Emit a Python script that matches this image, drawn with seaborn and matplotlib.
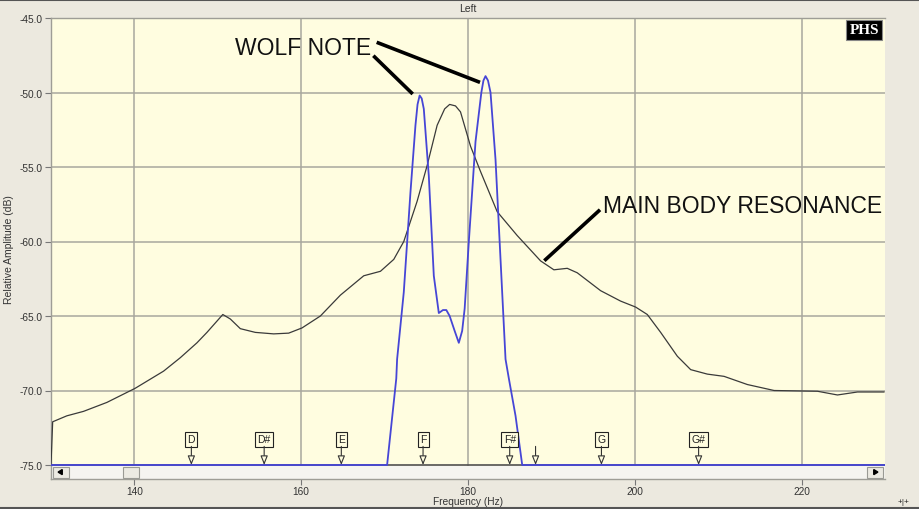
import numpy as np
import pandas as pd
import matplotlib
matplotlib.use("Agg")
import matplotlib.pyplot as plt
from matplotlib.patches import Rectangle, Polygon
from matplotlib.lines import Line2D
import seaborn as sns

# ---------------- data ----------------
body_freq = [130.0, 130.2, 131.9, 133.9, 136.7, 140.1, 143.5, 145.5, 147.5, 148.7,
             150.6, 151.5, 152.7, 154.5, 156.7, 158.5, 160.1, 162.3, 164.7, 167.5,
             169.5, 171.1, 172.3, 173.9, 175.1, 176.3, 177.2, 177.8, 178.5, 179.1,
             180.3, 181.5, 183.5, 185.9, 188.7, 190.3, 191.9, 193.1, 195.9, 198.3,
             200.1, 201.5, 203.1, 205.1, 206.7, 208.7, 210.7, 213.5, 216.7, 221.9,
             224.3, 226.7, 229.9]
body_db = [-75.0, -72.1, -71.7, -71.4, -70.8, -69.85, -68.7, -67.8, -66.8, -66.1,
           -64.9, -65.2, -65.85, -66.1, -66.2, -66.15, -65.8, -65.0, -63.6, -62.3,
           -62.0, -61.2, -60.0, -57.3, -54.9, -52.2, -51.1, -50.8, -50.9, -51.3,
           -53.6, -55.3, -58.0, -59.6, -61.3, -61.9, -61.8, -62.1, -63.3, -64.0,
           -64.4, -64.9, -66.1, -67.7, -68.6, -68.9, -69.05, -69.6, -70.0, -70.05,
           -70.3, -70.1, -70.1]

wolf_freq = [130.0, 170.3, 171.4, 171.5, 172.3, 173.1, 173.7, 173.95, 174.2, 174.45,
             174.7, 175.3, 175.9, 176.5, 177.0, 177.4, 177.8, 178.4, 178.9, 179.3,
             179.6, 180.1, 180.9, 181.6, 181.85, 182.1, 182.4, 182.7, 183.3, 183.9,
             184.5, 184.9, 185.7, 186.5, 230.0]
wolf_db = [-75.0, -75.0, -69.2, -67.9, -63.4, -56.7, -52.2, -50.8, -50.2, -50.4,
           -51.1, -55.6, -62.3, -64.8, -64.6, -64.6, -65.0, -66.0, -66.8, -66.0,
           -64.5, -60.0, -53.3, -50.0, -49.2, -48.9, -49.2, -50.0, -54.5, -61.2,
           -67.9, -69.2, -71.7, -75.0, -75.0]

note_names = ["D", "D#", "E", "F", "F#", "G", "G#"]
note_freqs = [146.83, 155.56, 164.81, 174.61, 185.0, 196.0, 207.65]
pitch_marker = 188.1

x_ticks = [140, 160, 180, 200, 220]
y_ticks = [-45, -50, -55, -60, -65, -70, -75]

# ---------------- style ----------------
BG = "#ECE9DF"
PLOT_BG = "#FFFDE0"
GRID = "#A8A79E"
TXT = "#333333"

sns.set_style("ticks")
plt.rcParams["font.family"] = ["Liberation Sans", "DejaVu Sans"]

fig = plt.figure(figsize=(9.19, 5.10), dpi=100, facecolor=BG)
ax = fig.add_axes([51 / 919, 30 / 510, 834 / 919, 461 / 510])
ax.set_facecolor(PLOT_BG)

YMIN = -45 - 461 / 14.9
ax.set_xlim(130, 230)
ax.set_ylim(YMIN, -45)

# grid
for xv in x_ticks:
    ax.axvline(xv, color=GRID, lw=1.1, zorder=0.5)
for yv in y_ticks[1:-1]:
    ax.axhline(yv, color=GRID, lw=1.1, zorder=0.5)

df_body = pd.DataFrame({"freq": body_freq, "db": body_db})
df_wolf = pd.DataFrame({"freq": wolf_freq, "db": wolf_db})

ax.axhline(-75, color="#505050", lw=1.2, zorder=1)
sns.lineplot(data=df_body, x="freq", y="db", ax=ax, color="#3a3a3a", lw=0.9,
             estimator=None, sort=False, zorder=3)
sns.lineplot(data=df_wolf, x="freq", y="db", ax=ax, color="#4646D6", lw=1.3,
             estimator=None, sort=False, zorder=4)

# scrollbar
trans = ax.transAxes
ax.add_patch(Rectangle((0, 0), 1, 0.0285, transform=trans, facecolor="#F5F4F0",
                       edgecolor="none", zorder=2))
def btn(x0, w):
    ax.add_patch(Rectangle((x0, 0.002), w, 0.025, transform=trans,
                           facecolor="#ECEAE2", edgecolor="#9a9a94", lw=0.8, zorder=6))
btn(0.002, 0.019)
btn(0.0865, 0.019)
btn(0.979, 0.019)
ax.add_patch(Polygon([[0.0085, 0.015], [0.0135, 0.0095], [0.0135, 0.0205]],
                     closed=True, transform=trans, color="black", zorder=7))
ax.add_patch(Polygon([[0.9915, 0.015], [0.9865, 0.0095], [0.9865, 0.0205]],
                     closed=True, transform=trans, color="black", zorder=7))

# note markers
box_y = -73.28
for name, f in zip(note_names, note_freqs):
    ax.text(f, box_y, name, ha="center", va="center", fontsize=7.5, color="#222",
            zorder=8, bbox=dict(boxstyle="square,pad=0.22", fc=PLOT_BG, ec="#222", lw=0.8))
    ax.annotate("", xy=(f, -75), xytext=(f, -73.75), zorder=8,
                arrowprops=dict(arrowstyle="-|>,head_length=0.55,head_width=0.22",
                                fc=PLOT_BG, ec="#333", lw=0.8, shrinkA=0, shrinkB=0))
ax.annotate("", xy=(pitch_marker, -75), xytext=(pitch_marker, -73.75), zorder=8,
            arrowprops=dict(arrowstyle="-|>,head_length=0.55,head_width=0.22",
                            fc=PLOT_BG, ec="#333", lw=0.8, shrinkA=0, shrinkB=0))

# annotations
ax.text(152.06, -46.98, "WOLF NOTE", fontsize=16.5, ha="left", va="center",
        color="#111", zorder=9)
ax.plot([168.65, 173.37], [-47.53, -50.10], color="black", lw=2.6, zorder=9,
        solid_capstyle="butt")
ax.plot([169.05, 181.44], [-46.63, -49.32], color="black", lw=2.6, zorder=9,
        solid_capstyle="butt")
ax.text(196.19, -57.58, "MAIN BODY RESONANCE", fontsize=16.5, ha="left", va="center",
        color="#111", zorder=9)
ax.plot([195.83, 189.15], [-57.87, -61.29], color="black", lw=2.6, zorder=9,
        solid_capstyle="butt")

# PHS logo
ax.text(0.975, 0.974, "PHS", transform=trans, ha="center", va="center",
        fontsize=11, fontweight="bold", color="white",
        family=["Liberation Serif", "DejaVu Serif"], zorder=10,
        bbox=dict(boxstyle="square,pad=0.2", fc="black", ec="#888", lw=0.8))

# axes styling
ax.set_xticks(x_ticks)
ax.set_xticklabels([str(v) for v in x_ticks])
ax.set_yticks(y_ticks)
ax.set_yticklabels([f"{v:.1f}" for v in y_ticks])
ax.tick_params(axis="both", labelsize=7.3, colors=TXT, length=4, width=0.8, pad=2,
               color="#777")
ax.tick_params(axis="x", pad=1)
for s in ax.spines.values():
    s.set_color("#9E9D96")
    s.set_linewidth(1.0)
ax.spines["right"].set_visible(False)
ax.set_xlabel("")
ax.set_ylabel("Relative Amplitude (dB)", fontsize=7.5, color=TXT, labelpad=4)
fig.text(468 / 919, 1 - 502 / 510, "Frequency (Hz)", ha="center", va="center",
         fontsize=7.3, color=TXT)

# window chrome
fig.text(468 / 919, 1 - 9 / 510, "Left", ha="center", va="center", fontsize=7.5, color=TXT)
fig.add_artist(Line2D([0, 1], [1 - 0.8 / 510, 1 - 0.8 / 510], color="#555", lw=1.5))
fig.add_artist(Line2D([0, 1], [1.5 / 510, 1.5 / 510], color="#555", lw=1.5))
fig.text(904 / 919, 7 / 510, "+|+", ha="center", va="center", fontsize=6, color="#222")

fig.savefig("out.png", dpi=100, facecolor=BG)
